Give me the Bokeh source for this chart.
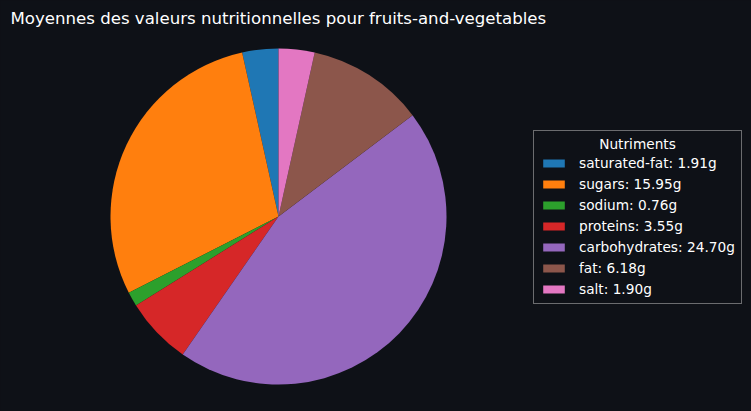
import math
from bokeh.plotting import figure
from bokeh.models import Legend, LegendItem, Label, ColumnDataSource
from bokeh.embed import file_html
from bokeh.resources import INLINE

nutrients = ["saturated-fat", "sugars", "sodium", "proteins", "carbohydrates", "fat", "salt"]
values = [1.91, 15.95, 0.76, 3.55, 24.70, 6.18, 1.90]
colors = ["#1f77b4", "#ff7f0e", "#2ca02c", "#d62728", "#9467bd", "#8c564b", "#e377c2"]
title_text = "Moyennes des valeurs nutritionnelles pour fruits-and-vegetables"
legend_title = "Nutriments"

BG = "#0e1117"
W, H = 751, 411
CX, CY, R = 278, H - 216, 168

total = sum(values)
starts, ends = [], []
acc = 0.0
for v in values:
    a0 = math.pi / 2 + 2 * math.pi * acc / total
    acc += v
    a1 = math.pi / 2 + 2 * math.pi * acc / total
    starts.append(a0)
    ends.append(a1)

p = figure(width=W, height=H, x_range=(0, W), y_range=(0, H),
           output_backend="svg", toolbar_location=None, min_border=0)
p.axis.visible = False
p.grid.visible = False
p.outline_line_color = None
p.background_fill_color = BG
p.border_fill_color = BG

items = []
for i, name in enumerate(nutrients):
    src = ColumnDataSource(dict(x=[CX], y=[CY], s=[starts[i]], e=[ends[i]]))
    r = p.wedge(x="x", y="y", radius=R, start_angle="s", end_angle="e",
                direction="anticlock", fill_color=colors[i], line_color=None, source=src)
    items.append(LegendItem(label=f"{name}: {values[i]:.2f}g", renderers=[r]))

legend = Legend(items=items, location=(533, H - 304), title=" ",
                title_text_font_size="13.7px", title_standoff=2,
                label_text_font="DejaVu Sans", label_text_font_size="13.7px",
                label_text_color="white", glyph_width=27, glyph_height=10,
                label_height=17, label_standoff=12, spacing=4, padding=6, margin=0,
                background_fill_color=BG, background_fill_alpha=0.0,
                border_line_color="#c8c8c8", border_line_width=1)
p.add_layout(legend, "center")

p.add_layout(Label(x=637, y=H - 143, text=legend_title, text_align="center",
                   text_baseline="middle", text_color="white", level="overlay",
                   text_font="DejaVu Sans", text_font_size="13.7px"))
p.add_layout(Label(x=10, y=H - 18, text=title_text, text_align="left",
                   text_baseline="middle", text_color="white", level="overlay",
                   text_font="DejaVu Sans", text_font_size="16.6px"))

html = file_html(p, INLINE)
html = html.replace("<body>", f'<body style="margin:0;background:{BG};overflow:hidden">', 1)
html = html.replace("<html", f'<html style="background:{BG}"', 1)
open("out.html", "w").write(html)
